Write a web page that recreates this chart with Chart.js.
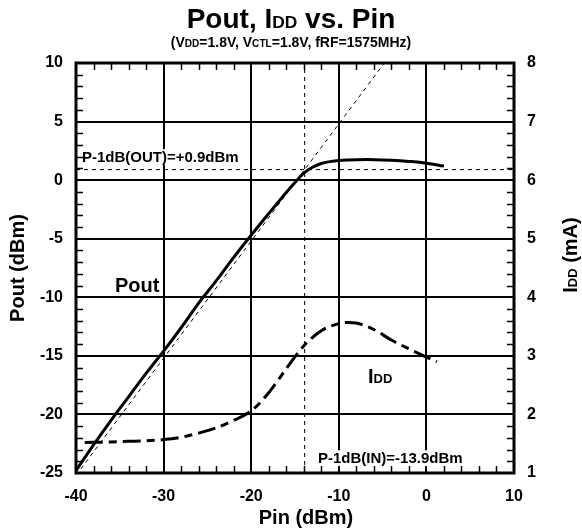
<!DOCTYPE html>
<html>
<head>
<meta charset="utf-8">
<script src="https://cdn.jsdelivr.net/npm/chart.js@4.4.1/dist/chart.umd.min.js"></script>
<style>
  html, body { margin: 0; padding: 0; background: #fff; }
  #wrap { width: 582px; height: 532px; }
</style>
</head>
<body>
<div id="wrap"><canvas id="paChart" width="582" height="532"></canvas></div>
<script>
// Pout vs Pin (left axis, dBm)
const poutPin = [-40, -38, -36, -34, -32, -30, -28, -26, -24, -22, -20, -18, -17, -16, -15, -14, -13, -12, -11, -10, -8, -6, -4, -2, 0, 2];
const poutVal = [-24.8, -22.6, -20.5, -18.5, -16.5, -14.6, -12.6, -10.5, -8.6, -6.6, -4.7, -2.85, -1.95, -1.05, -0.2, 0.6, 1.1, 1.42, 1.58, 1.67, 1.74, 1.75, 1.7, 1.6, 1.45, 1.2];

// IDD vs Pin (right axis, mA)
const iddPin = [-39, -36, -34, -32, -30, -28, -26, -24, -22, -20, -18, -16, -14, -12, -10, -9, -8, -6, -4, -2, 0, 1.2];
const iddVal = [1.52, 1.53, 1.54, 1.55, 1.57, 1.61, 1.68, 1.77, 1.9, 2.06, 2.37, 2.78, 3.17, 3.43, 3.55, 3.57, 3.56, 3.45, 3.27, 3.12, 2.98, 2.9];

// ideal linear gain line + P-1dB markers
const idealPin = [-40, -4.8];
const idealPout = [-25.2, 10];
const p1dbIn = -13.9;
const p1dbOut = 0.9;

const xTicks = [-40, -30, -20, -10, 0, 10];
const yTicks = [-25, -20, -15, -10, -5, 0, 5, 10];
const y1Ticks = [1, 2, 3, 4, 5, 6, 7, 8];

const FONT = 'Liberation Sans, Arial, sans-serif';

function pts(xs, ys) {
  return xs.map((x, i) => ({ x: x, y: ys[i] }));
}

// text with small "subscript" pieces, parts = [[text, scale], ...]
function rich(ctx, parts, x, y, size, align, rot) {
  ctx.save();
  ctx.translate(x, y);
  if (rot) ctx.rotate(rot);
  let w = 0;
  parts.forEach(p => {
    ctx.font = 'bold ' + (size * p[1]) + 'px ' + FONT;
    w += ctx.measureText(p[0]).width;
  });
  let cx = align === 'center' ? -w / 2 : (align === 'right' ? -w : 0);
  ctx.textBaseline = 'alphabetic';
  ctx.textAlign = 'left';
  ctx.fillStyle = '#000';
  parts.forEach(p => {
    ctx.font = 'bold ' + (size * p[1]) + 'px ' + FONT;
    ctx.fillText(p[0], cx, 0);
    cx += ctx.measureText(p[0]).width;
  });
  ctx.restore();
  return w;
}

function label(ctx, parts, x, y, size) {
  let w = 0;
  parts.forEach(p => {
    ctx.font = 'bold ' + (size * p[1]) + 'px ' + FONT;
    w += ctx.measureText(p[0]).width;
  });
  ctx.fillStyle = '#fff';
  ctx.fillRect(x - 3, y - size * 0.85, w + 6, size * 1.05);
  rich(ctx, parts, x, y, size, 'left');
}

const decor = {
  id: 'decor',
  afterDatasetsDraw(chart) {
    const ctx = chart.ctx;
    const xs = chart.scales.x;
    label(ctx, [['P-1dB(OUT)=+0.9dBm', 1]], xs.left + 6, 162, 15);
    label(ctx, [['Pout', 1]], 115, 292, 20);
    label(ctx, [['I', 1], ['DD', 0.65]], 368, 383, 20);
    label(ctx, [['P-1dB(IN)=-13.9dBm', 1]], 318, 463, 15);
  },
  afterDraw(chart) {
    const ctx = chart.ctx;
    const a = chart.chartArea;
    const xs = chart.scales.x, ys = chart.scales.y;
    ctx.save();
    ctx.strokeStyle = '#000';
    ctx.lineWidth = 1.5;
    ctx.beginPath();
    for (let v = -40; v <= 10; v += 2) {
      if (v % 10 === 0) continue;
      const px = Math.round(xs.getPixelForValue(v)) + 0.5;
      ctx.moveTo(px, a.bottom); ctx.lineTo(px, a.bottom - 7);
      ctx.moveTo(px, a.top); ctx.lineTo(px, a.top + 7);
    }
    for (let v = -25; v <= 10; v += 1) {
      if (v % 5 === 0) continue;
      const py = Math.round(ys.getPixelForValue(v)) + 0.5;
      ctx.moveTo(a.left, py); ctx.lineTo(a.left + 7, py);
      ctx.moveTo(a.right, py); ctx.lineTo(a.right - 7, py);
    }
    ctx.stroke();
    ctx.lineWidth = 3;
    ctx.strokeRect(a.left, a.top, a.right - a.left, a.bottom - a.top);
    ctx.restore();

    rich(ctx, [['Pout, I', 1], ['DD', 0.62], [' vs. Pin', 1]], 291, 28, 28, 'center');
    rich(ctx, [['(V', 1], ['DD', 0.72], ['=1.8V, V', 1], ['CTL', 0.72], ['=1.8V, fRF=1575MHz)', 1]], 291, 47, 14, 'center');
    rich(ctx, [['Pin (dBm)', 1]], 306, 524, 20, 'center');
    rich(ctx, [['Pout (dBm)', 1]], 24, (a.top + a.bottom) / 2, 20, 'center', -Math.PI / 2);
    rich(ctx, [['I', 1], ['DD', 0.65], [' (mA)', 1]], 577, 255, 20, 'center', -Math.PI / 2);
  }
};

const tickFont = { family: FONT, size: 16, weight: 'bold' };

new Chart(document.getElementById('paChart').getContext('2d'), {
  type: 'line',
  data: {
    datasets: [
      {
        label: 'Pout',
        data: pts(poutPin, poutVal),
        borderColor: '#000',
        borderWidth: 3,
        pointRadius: 0,
        tension: 0.4,
        yAxisID: 'y'
      },
      {
        label: 'IDD',
        data: pts(iddPin, iddVal),
        borderColor: '#000',
        borderWidth: 3,
        borderDash: [18, 6, 8, 6],
        pointRadius: 0,
        cubicInterpolationMode: 'monotone',
        yAxisID: 'y1'
      },
      {
        label: 'ideal',
        data: pts(idealPin, idealPout),
        borderColor: '#000',
        borderWidth: 1,
        borderDash: [4, 4],
        pointRadius: 0,
        yAxisID: 'y'
      },
      {
        label: 'p1dbIn',
        data: [{ x: p1dbIn, y: -25 }, { x: p1dbIn, y: 10 }],
        borderColor: '#000',
        borderWidth: 1,
        borderDash: [4, 4],
        pointRadius: 0,
        yAxisID: 'y'
      },
      {
        label: 'p1dbOut',
        data: [{ x: -40, y: p1dbOut }, { x: 10, y: p1dbOut }],
        borderColor: '#000',
        borderWidth: 1,
        borderDash: [4, 4],
        pointRadius: 0,
        yAxisID: 'y'
      }
    ]
  },
  options: {
    responsive: false,
    animation: false,
    events: [],
    layout: { padding: { top: 63, left: 0, right: 0, bottom: 0 } },
    plugins: { legend: { display: false }, tooltip: { enabled: false } },
    scales: {
      x: {
        type: 'linear',
        min: -40, max: 10,
        afterBuildTicks: s => { s.ticks = xTicks.map(v => ({ value: v })); },
        afterFit: s => { s.height = 59; },
        ticks: { font: tickFont, color: '#000', padding: 14 },
        grid: { color: '#000', lineWidth: 2, drawTicks: false },
        border: { display: false }
      },
      y: {
        position: 'left',
        min: -25, max: 10,
        afterBuildTicks: s => { s.ticks = yTicks.map(v => ({ value: v })); },
        afterFit: s => { s.width = 76; },
        ticks: { font: tickFont, color: '#000', padding: 13 },
        grid: { color: '#000', lineWidth: 2, drawTicks: false },
        border: { display: false }
      },
      y1: {
        position: 'right',
        min: 1, max: 8,
        afterBuildTicks: s => { s.ticks = y1Ticks.map(v => ({ value: v })); },
        afterFit: s => { s.width = 68; },
        ticks: { font: tickFont, color: '#000', padding: 13 },
        grid: { display: false, drawTicks: false },
        border: { display: false }
      }
    }
  },
  plugins: [decor]
});
</script>
</body>
</html>
